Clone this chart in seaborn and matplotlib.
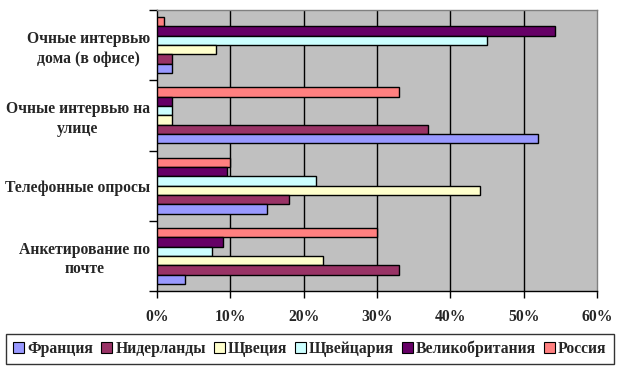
import matplotlib
matplotlib.use("Agg")
import matplotlib.pyplot as plt
from matplotlib.patches import Patch
from matplotlib.ticker import FixedLocator, PercentFormatter
import seaborn as sns
import pandas as pd

categories = ["Очные интервью\nдома (в офисе)", "Очные интервью на\nулице",
              "Телефонные опросы", "Анкетирование по\nпочте"]
countries = ["Франция", "Нидерланды", "Щвеция", "Щвейцария", "Великобритания", "Россия"]
colors = ["#9999FF", "#993366", "#FFFFCC", "#CCFFFF", "#660066", "#FF8080"]

# percent per category, one list per country
france = [2, 52, 15, 3.8]
netherlands = [2, 37, 18, 33]
sweden = [8, 2, 44, 22.7]
switzerland = [45, 2, 21.7, 7.5]
britain = [54.3, 2, 9.6, 9]
russia = [1, 33, 10, 30]

values = [france, netherlands, sweden, switzerland, britain, russia]
rows = []
for country, vals in zip(countries, values):
    for cat, v in zip(categories, vals):
        rows.append({"cat": cat, "country": country, "value": v})
df = pd.DataFrame(rows)

sns.set_style("white")
plt.rcParams["font.family"] = ["Liberation Serif", "DejaVu Serif"]
plt.rcParams["font.weight"] = "bold"
plt.rcParams["font.size"] = 11.3

fig = plt.figure(figsize=(6.2, 3.68), dpi=100)
ax = fig.add_axes([157 / 620, 1 - 291 / 368, 440 / 620, 281 / 368])
ax.set_facecolor("#C0C0C0")

# top bar in each group is Россия, so draw hue levels in reverse
palette = dict(zip(countries, colors))
sns.barplot(data=df, y="cat", x="value", hue="country", order=categories,
            hue_order=countries[::-1], palette=palette, width=0.8,
            edgecolor="black", linewidth=1, orient="h", ax=ax, legend=False,
            saturation=1, zorder=3)

ax.set_xlim(0, 60)
ax.set_ylim(3.5, -0.5)
ax.set_xticks(range(0, 61, 10))
ax.xaxis.set_major_formatter(PercentFormatter(decimals=0))
for x in range(10, 60, 10):
    ax.axvline(x, color="black", lw=1, zorder=1)

ax.set_xlabel("")
ax.set_ylabel("")
ax.tick_params(axis="y", length=0, pad=5)
ax.yaxis.set_minor_locator(FixedLocator([-0.5, 0.5, 1.5, 2.5, 3.5]))
ax.tick_params(axis="y", which="minor", length=6, width=1, color="black", left=True)
ax.tick_params(axis="x", length=5, width=1, color="black", bottom=True, pad=8)
for lab in ax.get_yticklabels():
    lab.set_multialignment("center")
    lab.set_linespacing(1.3)
    lab.set_fontweight("bold")
for lab in ax.get_xticklabels():
    lab.set_fontweight("bold")

for side in ["top", "right"]:
    ax.spines[side].set_color("#808080")
    ax.spines[side].set_linewidth(1)
for side in ["left", "bottom"]:
    ax.spines[side].set_color("black")
    ax.spines[side].set_linewidth(1)

handles = [Patch(facecolor=c, edgecolor="black", lw=0.8) for c in colors]
leg = fig.legend(handles, countries, loc="center", ncol=6,
                 bbox_to_anchor=(310 / 620, 1 - 349 / 368),
                 handlelength=0.7, handleheight=0.7, handletextpad=0.2,
                 columnspacing=0.5, borderpad=0.45, borderaxespad=0,
                 fancybox=False, frameon=True,
                 prop={"weight": "bold", "size": 11.3})
leg.get_frame().set_edgecolor("black")
leg.get_frame().set_linewidth(1)

fig.savefig("out.png", dpi=100)
